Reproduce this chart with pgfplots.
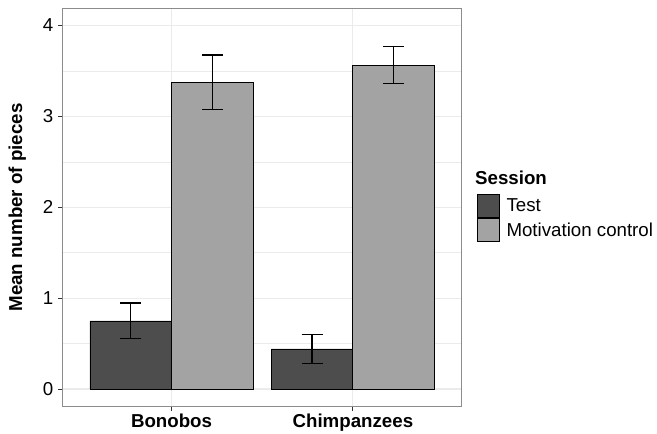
\documentclass[border=0pt]{standalone}
\usepackage{fontspec}
\setmainfont{Liberation Sans}
\usepackage{pgfplots}
\pgfplotsset{compat=1.18}
\definecolor{darkbar}{HTML}{4D4D4D}
\definecolor{lightbar}{HTML}{A3A3A3}
\definecolor{gridc}{HTML}{EBEBEB}
\newcommand{\bigfont}{\fontsize{18.7bp}{22bp}\selectfont}
\begin{document}
\begin{tikzpicture}
\useasboundingbox (-62.7bp,-27.3bp) rectangle (594.3bp,406.7bp);
\begin{axis}[
  at={(0,0)}, anchor=south west,
  scale only axis, width=399bp, height=398.4bp,
  xmin=0.4, xmax=2.6, ymin=-0.195, ymax=4.19,
  xtick={1,2}, xticklabels={\textbf{Bonobos},\textbf{Chimpanzees}},
  ytick={0,1,2,3,4}, minor ytick={0.5,1.5,2.5,3.5},
  grid=both,
  major grid style={gridc, line width=1.1bp},
  minor grid style={gridc, line width=0.6bp},
  axis line style={draw=black!45, line width=0.8bp},
  tick align=outside, major tick length=4.5bp, minor tick length=0pt,
  tick style={black!80, line width=0.8bp},
  xtick pos=bottom, ytick pos=left,
  clip=false,
  /pgf/number format/assume math mode=true,
  tick label style={font=\bigfont, black},
  yticklabel style={inner sep=0pt, anchor=east, xshift=-4.7bp},
  xticklabel style={inner sep=0pt, anchor=north, yshift=-3bp},
  ylabel={\textbf{Mean number of pieces}},
  ylabel style={font=\bigfont, at={(axis description cs:-0.114,0.5)}, anchor=center, rotate=0},
  ybar, bar width=0.45,
  every error bar/.append style={black, line width=1.5bp},
  legend image code/.code={\draw[#1, draw=black, line width=0.8bp] (0bp,-11.5bp) rectangle (22bp,11.5bp);},
  legend style={font=\bigfont, draw=none, fill=none, at={(rel axis cs:1.0376,0.5331)}, anchor=north west,
    inner sep=0pt, outer sep=0pt, row sep=0pt, column sep=7bp, nodes={inner sep=0pt}},
  legend cell align=left,
]
\addplot[bar shift=-0.225, fill=darkbar, draw=black, line width=0.8bp,
  error bars/.cd, y dir=both, y explicit,
  error bar style={black, line width=1.5bp},
  error mark options={black, line width=1.5bp, mark size=10.5bp, rotate=90}]
  coordinates {(1,0.749) +- (0,0.195) (2,0.4405) +- (0,0.16)};
\addlegendentry{Test}
\addplot[bar shift=0.225, fill=lightbar, draw=black, line width=0.8bp,
  error bars/.cd, y dir=both, y explicit,
  error bar style={black, line width=1.5bp},
  error mark options={black, line width=1.5bp, mark size=10.5bp, rotate=90}]
  coordinates {(1,3.378) +- (0,0.30) (2,3.565) +- (0,0.204)};
\addlegendentry{Motivation control}
\node[anchor=base west, font=\bfseries\bigfont, inner sep=0pt] at (rel axis cs:1.0333,0.5565) {Session};
\end{axis}
\end{tikzpicture}
\end{document}
